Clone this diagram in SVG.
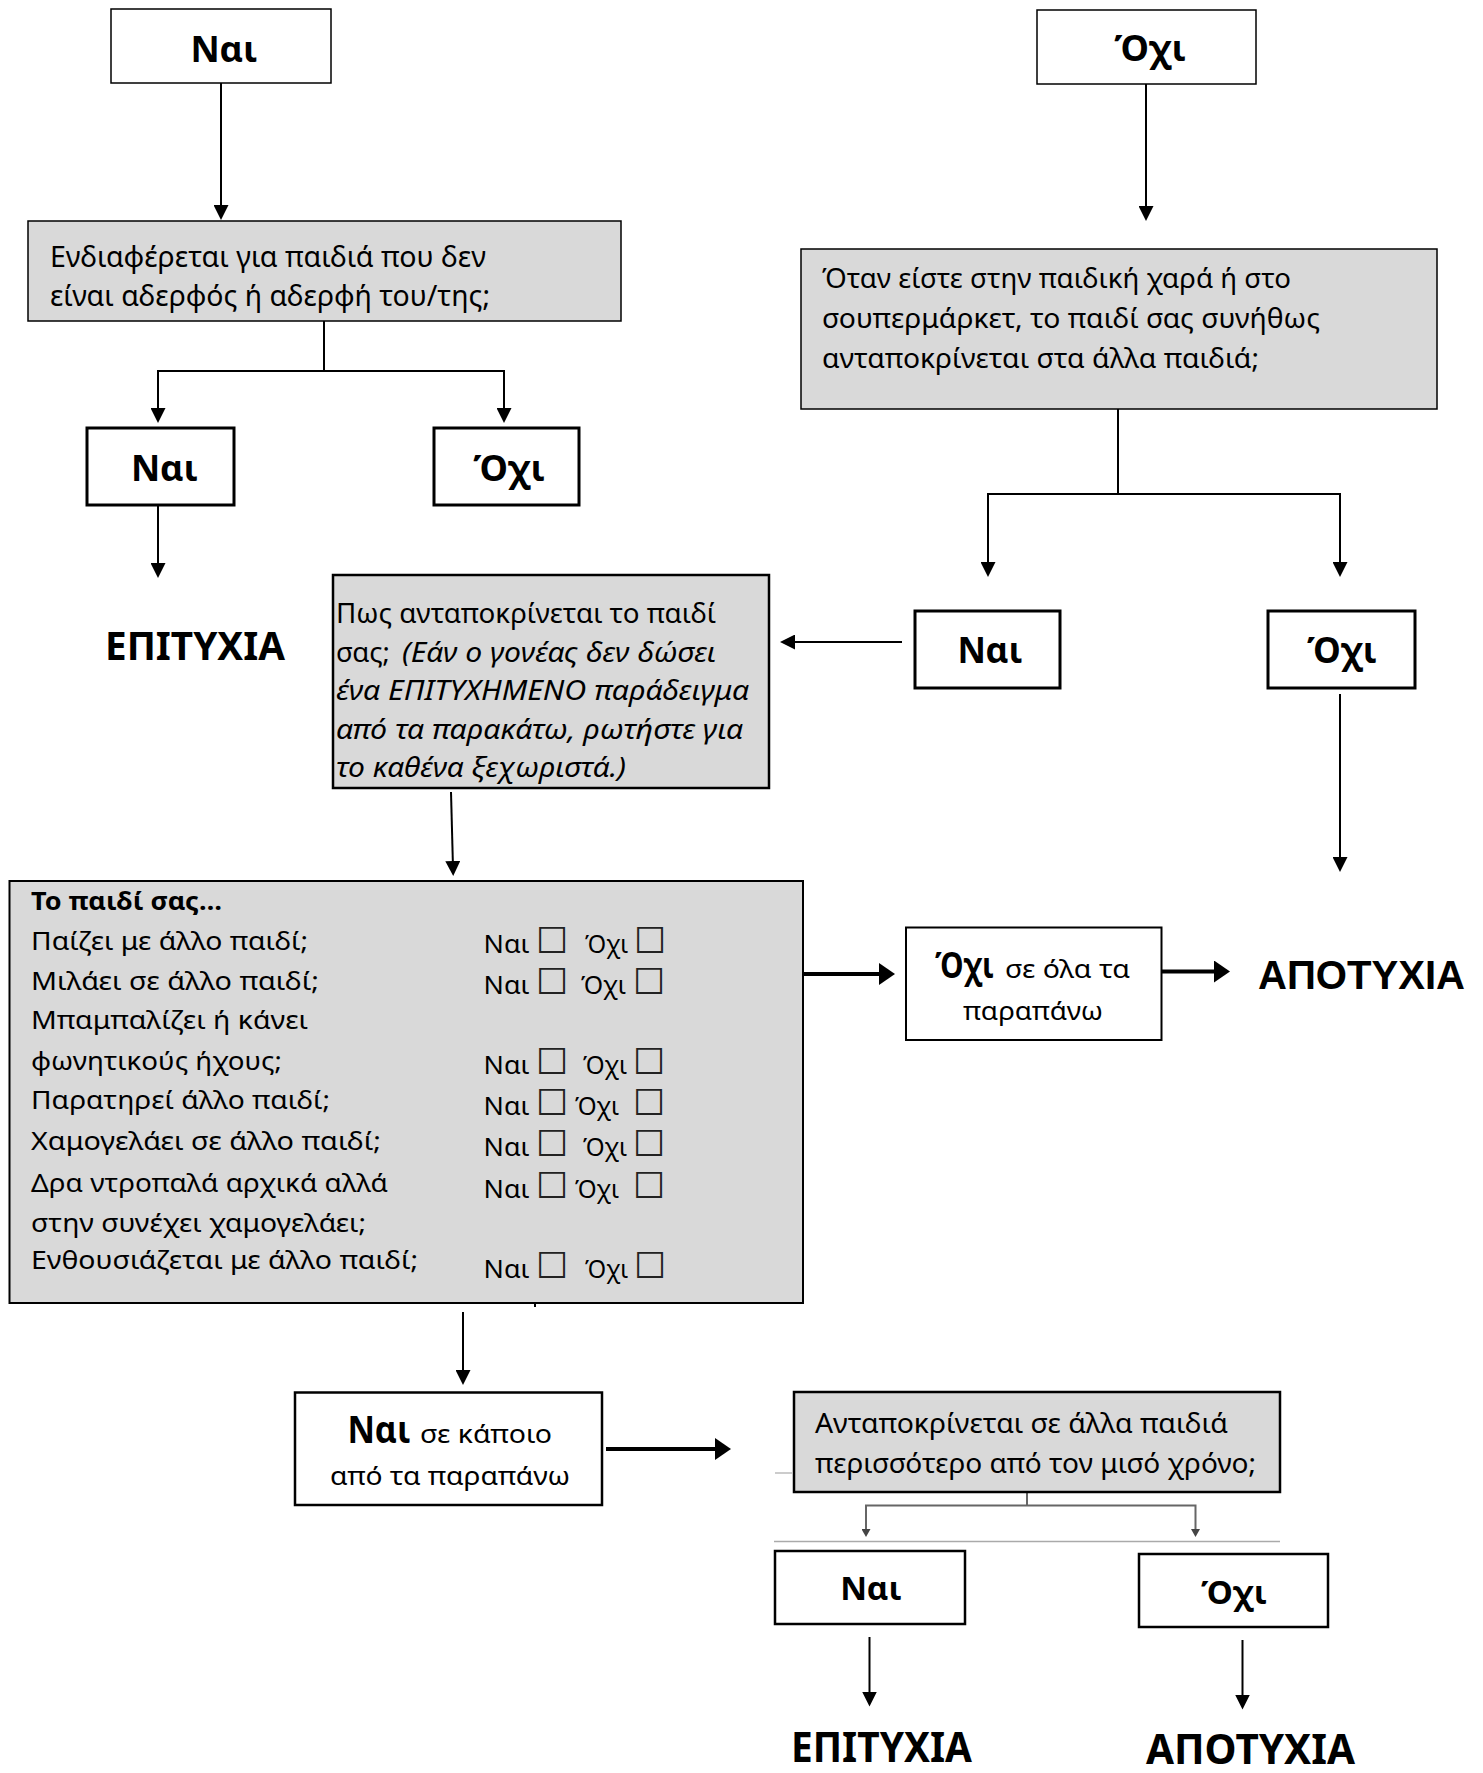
<svg xmlns="http://www.w3.org/2000/svg" width="1483" height="1773" viewBox="0 0 1483 1773">
<style>
.box{fill:#fff;stroke:#000;}
.gray{fill:#d9d9d9;}
.t{font-family:"Noto Sans","DejaVu Sans",sans-serif;fill:#000;}
.a{font-family:"Liberation Sans",Arial,sans-serif;fill:#000;}
.b{font-weight:bold;}
.i{font-style:italic;}
.cb{font-family:"DejaVu Sans",sans-serif;fill:#222;font-size:36px;}
.ln{fill:none;stroke:#000;stroke-width:2;}
.thick{fill:none;stroke:#000;stroke-width:4;}
.gl{fill:none;stroke:#666;stroke-width:2;}
</style>
<defs>
<marker id="ah" viewBox="0 0 15 15" refX="7" refY="7.5" markerWidth="15" markerHeight="15" markerUnits="userSpaceOnUse" orient="auto"><path d="M0,0 L15,7.5 L0,15 Z" fill="#000"/></marker>
<marker id="ahT" viewBox="0 0 16 22" refX="8" refY="11" markerWidth="16" markerHeight="22" markerUnits="userSpaceOnUse" orient="auto"><path d="M0,0 L16,11 L0,22 Z" fill="#000"/></marker>
<marker id="ahS" viewBox="0 0 8 9" refX="4" refY="4.5" markerWidth="8" markerHeight="9" markerUnits="userSpaceOnUse" orient="auto"><path d="M0,0 L8,4.5 L0,9 Z" fill="#444"/></marker>
</defs>
<rect width="1483" height="1773" fill="#fff"/>

<g id="connectors">
<path class="ln" d="M221,83 V212" marker-end="url(#ah)"/>
<path class="ln" d="M1146,84 V213" marker-end="url(#ah)"/>
<path class="ln" d="M324,321 V371"/>
<path class="ln" d="M324,371 H158 V415" marker-end="url(#ah)"/>
<path class="ln" d="M324,371 H504 V415" marker-end="url(#ah)"/>
<path class="ln" d="M158,505 V570" marker-end="url(#ah)"/>
<path class="ln" stroke-width="2.5" d="M1118,409 V494"/>
<path class="ln" stroke-width="2.5" d="M1118,494 H988 V569" marker-end="url(#ah)"/>
<path class="ln" stroke-width="2.5" d="M1118,494 H1340 V569" marker-end="url(#ah)"/>
<path class="ln" d="M902,642 H788" marker-end="url(#ah)"/>
<path class="ln" d="M1340,694 V864" marker-end="url(#ah)"/>
<path class="ln" d="M451,792 L453,868" marker-end="url(#ah)"/>
<path class="thick" d="M803,974 H887" marker-end="url(#ahT)"/>
<path class="thick" d="M1161.5,971.5 H1222" marker-end="url(#ahT)"/>
<path class="ln" stroke-width="3" d="M463,1312 V1377" marker-end="url(#ah)"/>
<path class="ln" stroke-width="2" d="M535,1303 V1307"/>
<path class="thick" d="M606,1449 H723" marker-end="url(#ahT)"/>
<path fill="none" stroke="#bbb" stroke-width="1.5" d="M775,1473 H792"/>
<path class="gl" d="M1027,1492 V1505.5"/>
<path class="gl" d="M1027,1505.5 H866 V1533" marker-end="url(#ahS)"/>
<path class="gl" d="M1027,1505.5 H1195.5 V1533" marker-end="url(#ahS)"/>
<path fill="none" stroke="#aaa" stroke-width="1.5" d="M774,1541.5 H1280"/>
<path class="ln" d="M869.5,1637 V1698.5" marker-end="url(#ah)"/>
<path class="ln" d="M1242.5,1640 V1701.5" marker-end="url(#ah)"/>
</g>

<g id="n-top-yes">
<rect class="box" x="111" y="9" width="220" height="74" stroke="#333" stroke-width="1.5"/>
<text class="t b" x="224" y="62" font-size="36" text-anchor="middle">Ναι</text>
</g>
<g id="n-top-no">
<rect class="box" x="1037" y="10" width="219" height="74" stroke="#333" stroke-width="1.5"/>
<text class="t b" x="1150" y="61" font-size="36" text-anchor="middle">Όχι</text>
</g>

<g id="n-q1">
<rect class="box gray" x="28" y="221" width="593" height="100" stroke="#444" stroke-width="1.5"/>
<text class="t" x="50" y="267" font-size="29" textLength="436" lengthAdjust="spacingAndGlyphs">Ενδιαφέρεται για παιδιά που δεν</text>
<text class="t" x="50" y="306" font-size="29" textLength="440" lengthAdjust="spacingAndGlyphs">είναι αδερφός ή αδερφή του/της;</text>
</g>

<g id="n-q1-yes">
<rect class="box" x="87" y="428" width="147" height="77" stroke-width="3"/>
<text class="t b" x="164.5" y="481" font-size="36" text-anchor="middle">Ναι</text>
</g>
<g id="n-q1-no">
<rect class="box" x="434" y="428" width="145" height="77" stroke-width="3"/>
<text class="t b" x="509" y="481" font-size="36" text-anchor="middle">Όχι</text>
</g>
<g id="n-success-1">
<text class="t b" x="105" y="660" font-size="39" textLength="180" lengthAdjust="spacingAndGlyphs">ΕΠΙΤΥΧΙΑ</text>
</g>

<g id="n-q2">
<rect class="box gray" x="801" y="249" width="636" height="160" stroke="#444" stroke-width="1.5"/>
<text class="t" x="822" y="287.5" font-size="28" textLength="469" lengthAdjust="spacingAndGlyphs">Όταν είστε στην παιδική χαρά ή στο</text>
<text class="t" x="822" y="328" font-size="28" textLength="498" lengthAdjust="spacingAndGlyphs">σουπερμάρκετ, το παιδί σας συνήθως</text>
<text class="t" x="822" y="368" font-size="28" textLength="437" lengthAdjust="spacingAndGlyphs">ανταποκρίνεται στα άλλα παιδιά;</text>
</g>

<g id="n-q2-yes">
<rect class="box" x="915" y="611" width="145" height="77" stroke-width="3"/>
<text class="t b" x="990" y="663" font-size="35" text-anchor="middle">Ναι</text>
</g>
<g id="n-q2-no">
<rect class="box" x="1268" y="611" width="147" height="77" stroke-width="3"/>
<text class="t b" x="1342" y="663" font-size="35" text-anchor="middle">Όχι</text>
</g>

<g id="n-q3">
<rect class="box gray" x="333" y="575" width="436" height="213" stroke-width="2.5"/>
<text class="t" x="336" y="623" font-size="27" textLength="380" lengthAdjust="spacingAndGlyphs">Πως ανταποκρίνεται το παιδί</text>
<text class="t" x="336" y="662" font-size="27" textLength="54" lengthAdjust="spacingAndGlyphs">σας;</text>
<text class="t i" x="402" y="662" font-size="27" textLength="314" lengthAdjust="spacingAndGlyphs">(Εάν ο γονέας δεν δώσει</text>
<text class="t i" x="336" y="700" font-size="27" textLength="413" lengthAdjust="spacingAndGlyphs">ένα ΕΠΙΤΥΧΗΜΕΝΟ παράδειγμα</text>
<text class="t i" x="336" y="738.5" font-size="27" textLength="407" lengthAdjust="spacingAndGlyphs">από τα παρακάτω, ρωτήστε για</text>
<text class="t i" x="336" y="777" font-size="27" textLength="290" lengthAdjust="spacingAndGlyphs">το καθένα ξεχωριστά.)</text>
</g>

<g id="n-checklist">
<rect class="box gray" x="9.5" y="881" width="793.5" height="422" stroke="#333" stroke-width="2"/>
<text class="t b" x="31" y="910" font-size="25" textLength="191" lengthAdjust="spacingAndGlyphs">Το παιδί σας…</text>
<text class="t" x="31" y="950" font-size="25" textLength="277" lengthAdjust="spacingAndGlyphs">Παίζει με άλλο παιδί;</text>
<text class="t" x="31" y="990" font-size="25" textLength="288" lengthAdjust="spacingAndGlyphs">Μιλάει σε άλλο παιδί;</text>
<text class="t" x="31" y="1029" font-size="25" textLength="277" lengthAdjust="spacingAndGlyphs">Μπαμπαλίζει ή κάνει</text>
<text class="t" x="31" y="1070" font-size="25" textLength="251" lengthAdjust="spacingAndGlyphs">φωνητικούς ήχους;</text>
<text class="t" x="31" y="1109" font-size="25" textLength="299" lengthAdjust="spacingAndGlyphs">Παρατηρεί άλλο παιδί;</text>
<text class="t" x="31" y="1150" font-size="25" textLength="350" lengthAdjust="spacingAndGlyphs">Χαμογελάει σε άλλο παιδί;</text>
<text class="t" x="31" y="1192" font-size="25" textLength="357" lengthAdjust="spacingAndGlyphs">Δρα ντροπαλά αρχικά αλλά</text>
<text class="t" x="31" y="1232" font-size="25" textLength="335" lengthAdjust="spacingAndGlyphs">στην συνέχει χαμογελάει;</text>
<text class="t" x="31" y="1269" font-size="25" textLength="387" lengthAdjust="spacingAndGlyphs">Ενθουσιάζεται με άλλο παιδί;</text>

<text class="t" x="483.5" y="952.7" font-size="25" textLength="46" lengthAdjust="spacingAndGlyphs">Ναι</text>
<text class="cb" x="536" y="953">☐</text>
<text class="t" x="585" y="952.7" font-size="25" textLength="43" lengthAdjust="spacingAndGlyphs">Όχι</text>
<text class="cb" x="634" y="953">☐</text>

<text class="t" x="483.5" y="994" font-size="25" textLength="46" lengthAdjust="spacingAndGlyphs">Ναι</text>
<text class="cb" x="536" y="994.3">☐</text>
<text class="t" x="581" y="994" font-size="25" textLength="45" lengthAdjust="spacingAndGlyphs">Όχι</text>
<text class="cb" x="633" y="994.3">☐</text>

<text class="t" x="483.5" y="1074" font-size="25" textLength="46" lengthAdjust="spacingAndGlyphs">Ναι</text>
<text class="cb" x="536" y="1074.3">☐</text>
<text class="t" x="583" y="1074" font-size="25" textLength="44" lengthAdjust="spacingAndGlyphs">Όχι</text>
<text class="cb" x="633" y="1074.3">☐</text>

<text class="t" x="483.5" y="1115" font-size="25" textLength="46" lengthAdjust="spacingAndGlyphs">Ναι</text>
<text class="cb" x="536" y="1115.3">☐</text>
<text class="t" x="575" y="1115" font-size="25" textLength="44" lengthAdjust="spacingAndGlyphs">Όχι</text>
<text class="cb" x="633" y="1115.3">☐</text>

<text class="t" x="483.5" y="1156" font-size="25" textLength="46" lengthAdjust="spacingAndGlyphs">Ναι</text>
<text class="cb" x="536" y="1156.3">☐</text>
<text class="t" x="583" y="1156" font-size="25" textLength="44" lengthAdjust="spacingAndGlyphs">Όχι</text>
<text class="cb" x="633" y="1156.3">☐</text>

<text class="t" x="483.5" y="1198" font-size="25" textLength="46" lengthAdjust="spacingAndGlyphs">Ναι</text>
<text class="cb" x="536" y="1198.3">☐</text>
<text class="t" x="575" y="1198" font-size="25" textLength="44" lengthAdjust="spacingAndGlyphs">Όχι</text>
<text class="cb" x="633" y="1198.3">☐</text>

<text class="t" x="483.5" y="1278" font-size="25" textLength="46" lengthAdjust="spacingAndGlyphs">Ναι</text>
<text class="cb" x="536" y="1278.3">☐</text>
<text class="t" x="585" y="1278" font-size="25" textLength="43" lengthAdjust="spacingAndGlyphs">Όχι</text>
<text class="cb" x="634" y="1278.3">☐</text>
</g>

<g id="n-all-no">
<rect class="box" x="906" y="927.5" width="255.5" height="112.5" stroke="#222" stroke-width="2"/>
<text class="t b" x="935" y="978" font-size="35" textLength="59" lengthAdjust="spacingAndGlyphs">Όχι</text>
<text class="t" x="1005" y="978" font-size="26" textLength="125" lengthAdjust="spacingAndGlyphs">σε όλα τα</text>
<text class="t" x="963" y="1020" font-size="26" textLength="140" lengthAdjust="spacingAndGlyphs">παραπάνω</text>
</g>
<g id="n-failure-1">
<text class="a b" x="1258" y="989.3" font-size="40" textLength="207" lengthAdjust="spacingAndGlyphs">ΑΠΟΤΥΧΙΑ</text>
</g>

<g id="n-some-yes">
<rect class="box" x="295" y="1392.5" width="307" height="112.5" stroke="#111" stroke-width="2.5"/>
<text class="t b" x="347.5" y="1443" font-size="37" textLength="63" lengthAdjust="spacingAndGlyphs">Ναι</text>
<text class="t" x="420" y="1443" font-size="26" textLength="132" lengthAdjust="spacingAndGlyphs">σε κάποιο</text>
<text class="t" x="330" y="1485" font-size="26" textLength="240" lengthAdjust="spacingAndGlyphs">από τα παραπάνω</text>
</g>

<g id="n-q4">
<rect class="box gray" x="794" y="1392" width="486" height="100" stroke="#111" stroke-width="2.5"/>
<text class="t" x="815" y="1433" font-size="27" textLength="413" lengthAdjust="spacingAndGlyphs">Ανταποκρίνεται σε άλλα παιδιά</text>
<text class="t" x="815" y="1473" font-size="27" textLength="441" lengthAdjust="spacingAndGlyphs">περισσότερο από τον μισό χρόνο;</text>
</g>

<g id="n-q4-yes">
<rect class="box" x="775" y="1551" width="190" height="73" stroke-width="2.5"/>
<text class="t b" x="871" y="1600" font-size="33" text-anchor="middle">Ναι</text>
</g>
<g id="n-q4-no">
<rect class="box" x="1139" y="1554" width="189" height="73" stroke-width="2.5"/>
<text class="t b" x="1234" y="1604" font-size="33" text-anchor="middle">Όχι</text>
</g>
<g id="n-success-2">
<text class="t b" x="791" y="1762" font-size="42" textLength="181" lengthAdjust="spacingAndGlyphs">ΕΠΙΤΥΧΙΑ</text>
</g>
<g id="n-failure-2">
<text class="t b" x="1146" y="1764" font-size="42" textLength="209" lengthAdjust="spacingAndGlyphs">ΑΠΟΤΥΧΙΑ</text>
</g>
</svg>
